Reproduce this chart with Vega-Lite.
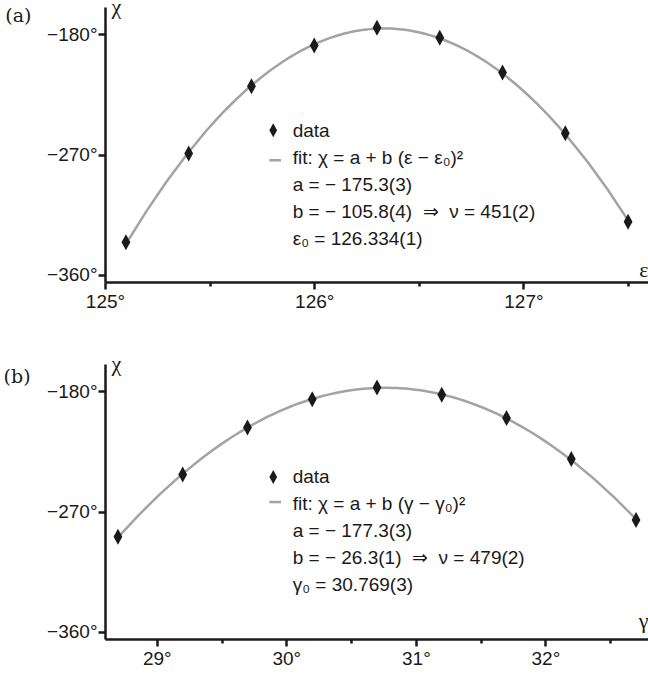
{
  "$schema": "https://vega.github.io/schema/vega-lite/v6.json",
  "background": "white",
  "padding": {"left": 3, "top": -5, "right": 0, "bottom": 0},
  "spacing": 41,
  "config": {
    "view": {"stroke": null},
    "title": {"font": "DejaVu Serif", "fontSize": 19, "fontWeight": "normal", "color": "#1a1a1a"},
    "axis": {
      "grid": false,
      "domainColor": "#1a1a1a",
      "domainWidth": 2.5,
      "tickColor": "#1a1a1a",
      "tickWidth": 2.5,
      "tickSize": 7,
      "labelFont": "Liberation Sans",
      "labelFontSize": 19,
      "labelColor": "#1a1a1a",
      "labelOverlap": false,
      "labelFlush": false,
      "titleFont": "Liberation Serif",
      "titleFontSize": 22,
      "titleFontWeight": "normal",
      "titleColor": "#1a1a1a"
    }
  },
  "vconcat": [
    {
      "width": 544,
      "height": 275,
      "title": {"text": "(a)", "orient": "left", "anchor": "end", "angle": 0, "align": "right", "baseline": "top", "offset": -11, "dy": 0, "frame": "group"},
      "data": {"values": [
        {"eps": 125.1, "chi": -335.5},
        {"eps": 125.4, "chi": -269.2},
        {"eps": 125.7, "chi": -218.8},
        {"eps": 126.0, "chi": -188.4},
        {"eps": 126.3, "chi": -175.1},
        {"eps": 126.6, "chi": -182.5},
        {"eps": 126.9, "chi": -208.5},
        {"eps": 127.2, "chi": -254.0},
        {"eps": 127.5, "chi": -320.3}
      ]},
      "layer": [
        {
          "transform": [{"regression": "chi", "on": "eps", "method": "poly", "order": 2}],
          "mark": {"type": "line", "color": "#a3a3a3", "strokeWidth": 2.5},
          "encoding": {
            "x": {"field": "eps", "type": "quantitative",
                  "scale": {"domain": [125, 127.6], "nice": false, "zero": false},
                  "axis": {"values": [125, 125.5, 126, 126.5, 127, 127.5],
                           "labelExpr": "datum.value % 1 === 0 ? format(datum.value, 'd') + '°' : ''",
                           "tickSize": {"condition": {"test": "datum.value % 1 !== 0", "value": 4}, "value": 7},
                           "labelPadding": 3,
                           "title": "ε", "titleX": 543, "titleY": -6, "titleAlign": "right", "titleBaseline": "alphabetic", "titleAngle": 0}},
            "y": {"field": "chi", "type": "quantitative",
                  "scale": {"domain": [-365.3, -159.5], "nice": false, "zero": false},
                  "axis": {"values": [-360, -270, -180],
                           "labelExpr": "format(datum.value, 'd') + '°'",
                           "labelPadding": 1,
                           "title": "χ", "titleAngle": 0, "titleX": 6, "titleY": 6, "titleAlign": "left", "titleBaseline": "alphabetic"}}
          }
        },
        {
          "mark": {"type": "point", "shape": "M0,-1L0.55,0L0,1L-0.55,0Z", "filled": true, "color": "#1a1a1a", "size": 256, "opacity": 1},
          "encoding": {
            "x": {"field": "eps", "type": "quantitative", "title": "ε"},
            "y": {"field": "chi", "type": "quantitative", "title": "χ"}
          }
        },
        {
          "data": {"values": [{}]},
          "mark": {"type": "point", "shape": "M0,-1L0.55,0L0,1L-0.55,0Z", "filled": true, "color": "#1a1a1a", "size": 196, "opacity": 1},
          "encoding": {"x": {"datum": 125.804}, "y": {"datum": -251.8}}
        },
        {
          "data": {"values": [{}]},
          "mark": {"type": "rule", "color": "#a3a3a3", "strokeWidth": 2.5},
          "encoding": {"x": {"datum": 125.785}, "x2": {"datum": 125.841}, "y": {"datum": -274.2}}
        },
        {
          "data": {"values": [{}]},
          "mark": {"type": "text", "align": "left", "baseline": "alphabetic", "font": "Liberation Sans", "fontSize": 19, "lineHeight": 27.1, "color": "#1a1a1a"},
          "encoding": {
            "x": {"datum": 125.897},
            "y": {"datum": -256.6},
            "text": {"value": ["data", "fit: χ = a + b (ε − ε₀)²", "a = − 175.3(3)", "b = − 105.8(4)\u00a0\u00a0⇒\u00a0\u00a0ν = 451(2)", "ε₀ = 126.334(1)"]}
          }
        }
      ]
    },
    {
      "width": 544,
      "height": 275,
      "title": {"text": "(b)", "orient": "left", "anchor": "end", "angle": 0, "align": "right", "baseline": "top", "offset": -11, "dy": 4, "frame": "group"},
      "data": {"values": [
        {"gam": 28.7, "chi": -288.7},
        {"gam": 29.2, "chi": -242.2},
        {"gam": 29.7, "chi": -207.1},
        {"gam": 30.2, "chi": -185.9},
        {"gam": 30.7, "chi": -177.1},
        {"gam": 31.2, "chi": -182.6},
        {"gam": 31.7, "chi": -200.0},
        {"gam": 32.2, "chi": -230.6},
        {"gam": 32.7, "chi": -276.3}
      ]},
      "layer": [
        {
          "transform": [{"regression": "chi", "on": "gam", "method": "poly", "order": 2}],
          "mark": {"type": "line", "color": "#a3a3a3", "strokeWidth": 2.5},
          "encoding": {
            "x": {"field": "gam", "type": "quantitative",
                  "scale": {"domain": [28.6, 32.8], "nice": false, "zero": false},
                  "axis": {"values": [29, 29.5, 30, 30.5, 31, 31.5, 32, 32.5],
                           "labelExpr": "datum.value % 1 === 0 ? format(datum.value, 'd') + '°' : ''",
                           "tickSize": {"condition": {"test": "datum.value % 1 !== 0", "value": 4}, "value": 7},
                           "labelPadding": 3,
                           "title": "γ", "titleX": 543, "titleY": -12, "titleAlign": "right", "titleBaseline": "alphabetic", "titleAngle": 0}},
            "y": {"field": "chi", "type": "quantitative",
                  "scale": {"domain": [-365.3, -159.5], "nice": false, "zero": false},
                  "axis": {"values": [-360, -270, -180],
                           "labelExpr": "format(datum.value, 'd') + '°'",
                           "labelPadding": 1,
                           "title": "χ", "titleAngle": 0, "titleX": 6, "titleY": 6, "titleAlign": "left", "titleBaseline": "alphabetic"}}
          }
        },
        {
          "mark": {"type": "point", "shape": "M0,-1L0.55,0L0,1L-0.55,0Z", "filled": true, "color": "#1a1a1a", "size": 256, "opacity": 1},
          "encoding": {
            "x": {"field": "gam", "type": "quantitative", "title": "γ"},
            "y": {"field": "chi", "type": "quantitative", "title": "χ"}
          }
        },
        {
          "data": {"values": [{}]},
          "mark": {"type": "point", "shape": "M0,-1L0.55,0L0,1L-0.55,0Z", "filled": true, "color": "#1a1a1a", "size": 196, "opacity": 1},
          "encoding": {"x": {"datum": 29.899}, "y": {"datum": -244.1}}
        },
        {
          "data": {"values": [{}]},
          "mark": {"type": "rule", "color": "#a3a3a3", "strokeWidth": 2.5},
          "encoding": {"x": {"datum": 29.869}, "x2": {"datum": 29.959}, "y": {"datum": -262.8}}
        },
        {
          "data": {"values": [{}]},
          "mark": {"type": "text", "align": "left", "baseline": "alphabetic", "font": "Liberation Sans", "fontSize": 19, "lineHeight": 27.1, "color": "#1a1a1a"},
          "encoding": {
            "x": {"datum": 30.049},
            "y": {"datum": -248.3},
            "text": {"value": ["data", "fit: χ = a + b (γ − γ₀)²", "a = − 177.3(3)", "b = − 26.3(1)\u00a0\u00a0⇒\u00a0\u00a0ν = 479(2)", "γ₀ = 30.769(3)"]}
          }
        }
      ]
    }
  ]
}
